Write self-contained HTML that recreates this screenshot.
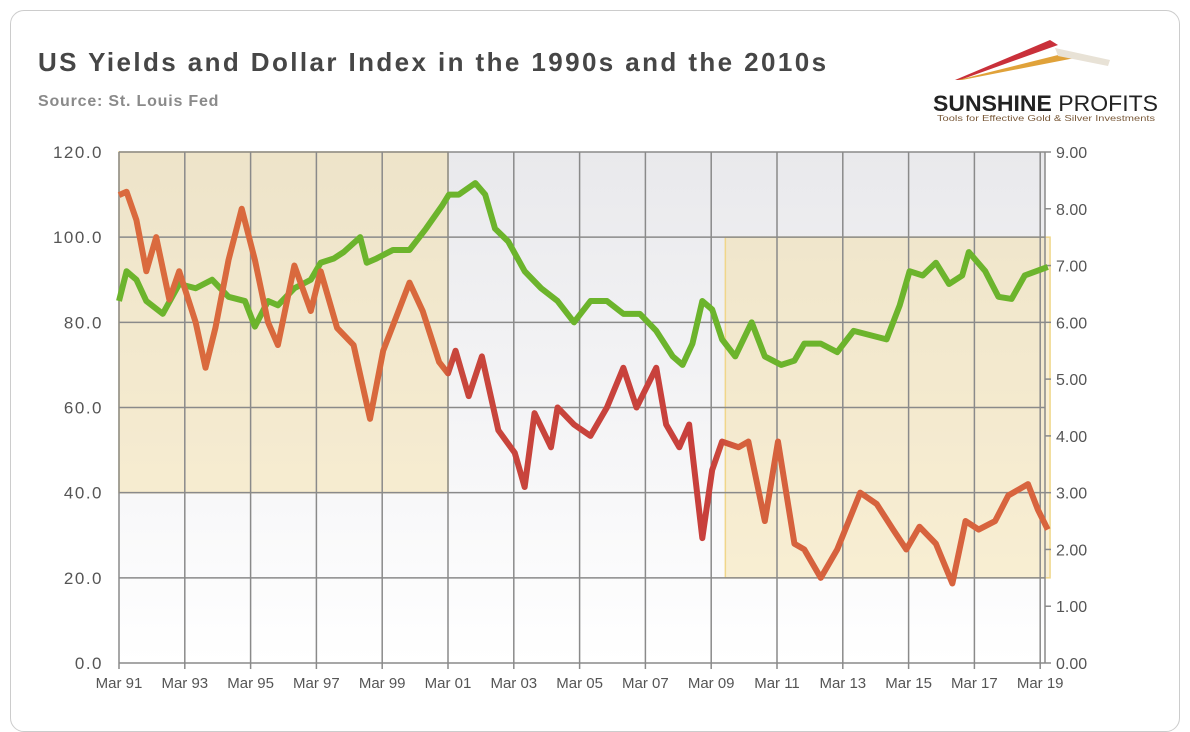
<!DOCTYPE html>
<html><head><meta charset="utf-8">
<style>
body{margin:0;background:#fff;width:1190px;height:714px;overflow:hidden;font-family:"Liberation Sans",sans-serif}
#card{position:absolute;left:10px;top:10px;width:1168px;height:720px;border:1px solid #ccc;border-radius:14px;background:#fff}
#title{position:absolute;left:38px;top:47px;font-size:26px;font-weight:bold;color:#464646;letter-spacing:2.4px}
#source{position:absolute;left:38px;top:93px;font-size:16px;font-weight:bold;color:#8a8a8a;letter-spacing:0.8px}
</style></head><body>
<div id="card"></div>
<div id="title">US Yields and Dollar Index in the 1990s and the 2010s</div>
<div id="source">Source: St. Louis Fed</div>
<svg width="1190" height="714" style="position:absolute;left:0;top:0" id="svg">
<defs>
<linearGradient id="bg" x1="0" y1="0" x2="0" y2="1"><stop offset="0" stop-color="#e9e9ec"/><stop offset="1" stop-color="#ffffff"/></linearGradient>
<linearGradient id="redg" gradientUnits="userSpaceOnUse" x1="119" y1="0" x2="1045" y2="0">
<stop offset="0" stop-color="#da6a3e"/><stop offset="0.35" stop-color="#d8683c"/><stop offset="0.36" stop-color="#c8463c"/><stop offset="0.64" stop-color="#c8403c"/><stop offset="0.67" stop-color="#d5613d"/><stop offset="1" stop-color="#d8643e"/></linearGradient>
</defs>
<g>
<polygon points="955,80 1050,40 1058,45 960,80" fill="#c9303a"/>
<polygon points="958,80 1070,52 1075,58 962,80" fill="#e0a23a"/>
<polygon points="1055,48 1110,60 1108,66 1058,56" fill="#e8e2d6"/>
<text x="933" y="111" font-size="22" font-weight="bold" fill="#222" font-family="Liberation Sans, sans-serif" textLength="225" lengthAdjust="spacingAndGlyphs">SUNSHINE <tspan font-weight="normal">PROFITS</tspan></text>
<text x="937" y="121" font-size="8" fill="#7a5a3a" font-family="Liberation Sans, sans-serif" textLength="218" lengthAdjust="spacingAndGlyphs">Tools for Effective Gold &amp; Silver Investments</text>
</g>
<g id="plot"></g>
</svg>
<script>
const xTickLabels=["Mar 91","Mar 93","Mar 95","Mar 97","Mar 99","Mar 01","Mar 03","Mar 05","Mar 07","Mar 09","Mar 11","Mar 13","Mar 15","Mar 17","Mar 19"];
const xTickYears=[1991.17,1993.17,1995.17,1997.17,1999.17,2001.17,2003.17,2005.17,2007.17,2009.17,2011.17,2013.17,2015.17,2017.17,2019.17];
const leftTicks=[0,20,40,60,80,100,120];
const rightTicks=[0,1,2,3,4,5,6,7,8,9];
const dollarYears=[1991.17,1991.4,1991.7,1992,1992.5,1993,1993.5,1994,1994.5,1995,1995.3,1995.7,1996,1996.5,1997,1997.3,1997.7,1998,1998.5,1998.7,1999,1999.5,2000,2000.5,2001,2001.2,2001.5,2002,2002.3,2002.6,2003,2003.5,2004,2004.5,2005,2005.5,2006,2006.5,2007,2007.5,2008,2008.3,2008.6,2008.9,2009.2,2009.5,2009.9,2010.4,2010.8,2011.3,2011.7,2012,2012.5,2013,2013.5,2014,2014.5,2014.9,2015.2,2015.6,2016,2016.4,2016.8,2017,2017.5,2017.9,2018.3,2018.7,2019.4];
const dollarValues=[85,92,90,85,82,89,88,90,86,85,79,85,84,88,90,94,95,96.5,100,94,95,97,97,102,107.5,110,110,112.7,110,102,99,92,88,85,80,85,85,82,82,78,72,70,75,85,83,76,72,80,72,70,71,75,75,73,78,77,76,84,92,91,94,89,91,96.5,92,86,85.5,91,93];
const yieldYears=[1991.17,1991.4,1991.7,1992,1992.3,1992.7,1993,1993.5,1993.8,1994.1,1994.5,1994.9,1995.3,1995.7,1996,1996.5,1997,1997.3,1997.8,1998.3,1998.8,1999.2,1999.6,2000,2000.4,2000.9,2001.17,2001.4,2001.8,2002.2,2002.7,2003.2,2003.5,2003.8,2004.3,2004.5,2005,2005.5,2006,2006.5,2006.9,2007.5,2007.8,2008.2,2008.5,2008.9,2009.2,2009.5,2010,2010.3,2010.8,2011.2,2011.7,2012,2012.5,2013,2013.7,2014.2,2014.7,2015.1,2015.5,2016,2016.5,2016.9,2017.3,2017.8,2018.2,2018.8,2019.1,2019.4];
const yieldValues=[8.24,8.3,7.8,6.9,7.5,6.4,6.9,6.0,5.2,5.9,7.1,8.0,7.1,6.0,5.6,7.0,6.2,6.9,5.9,5.6,4.3,5.5,6.1,6.7,6.2,5.3,5.1,5.5,4.7,5.4,4.1,3.7,3.1,4.4,3.8,4.5,4.2,4.0,4.5,5.2,4.5,5.2,4.2,3.8,4.2,2.2,3.4,3.9,3.8,3.9,2.5,3.9,2.1,2.0,1.5,2.0,3.0,2.8,2.35,2.0,2.4,2.1,1.4,2.5,2.35,2.5,2.95,3.15,2.7,2.35];
const boxes=[[1991.17,2001.17,40,120],[2009.6,2019.47,20,100]];

const X0=119,PX=32.9,YB=663,YT=152;
const x=y=>X0+(y-1991.17)*PX;
const yl=v=>YB-(v/120)*(YB-YT);
const yr=v=>YB-(v/9)*(YB-YT);
const ns="http://www.w3.org/2000/svg";
const g=document.getElementById('plot');
function mk(t,a){const e=document.createElementNS(ns,t);for(const k in a)e.setAttribute(k,a[k]);g.appendChild(e);return e;}
const XR=1045;
let e=mk('rect',{x:X0,y:YT,width:XR-X0,height:YB-YT,fill:'url(#bg)'});


boxes.forEach(b=>{const r=mk('rect',{x:x(b[0]),y:yl(b[3]),width:x(b[1])-x(b[0]),height:yl(b[2])-yl(b[3]),fill:'rgba(245,222,160,0.45)',stroke:'#f0d68a','stroke-width':1.5});

});
leftTicks.forEach(v=>{const l=mk('line',{x1:X0,x2:XR,y1:yl(v),y2:yl(v),stroke:'#8a8a8a','stroke-width':1.5});


const t=mk('text',{x:103,y:yl(v)+6,'text-anchor':'end','font-size':17,fill:'#555','letter-spacing':1.5});t.textContent=v.toFixed(1);

});
xTickYears.forEach((yv,i)=>{const l=mk('line',{x1:x(yv),x2:x(yv),y1:YT,y2:YB+6,stroke:'#8a8a8a','stroke-width':1.5});


const t=mk('text',{x:x(yv),y:YB+25,'text-anchor':'middle','font-size':15,fill:'#555'});t.textContent=xTickLabels[i];

});
e=mk('line',{x1:XR,x2:XR,y1:YT,y2:YB,stroke:'#8a8a8a','stroke-width':1.5});


rightTicks.forEach(v=>{const l=mk('line',{x1:XR,x2:XR+6,y1:yr(v),y2:yr(v),stroke:'#8a8a8a','stroke-width':1.5});


const t=mk('text',{x:1056,y:yr(v)+6,'font-size':16,fill:'#555'});t.textContent=v.toFixed(2);

});
let p=mk('polyline',{points:dollarYears.map((a,i)=>x(a)+','+yl(dollarValues[i])).join(' '),fill:'none',stroke:'#6cb42c','stroke-width':6,'stroke-linejoin':'round'});


p=mk('polyline',{points:yieldYears.map((a,i)=>x(a)+','+yr(yieldValues[i])).join(' '),fill:'none',stroke:'url(#redg)','stroke-width':6,'stroke-linejoin':'round'});


</script>
</body></html>
